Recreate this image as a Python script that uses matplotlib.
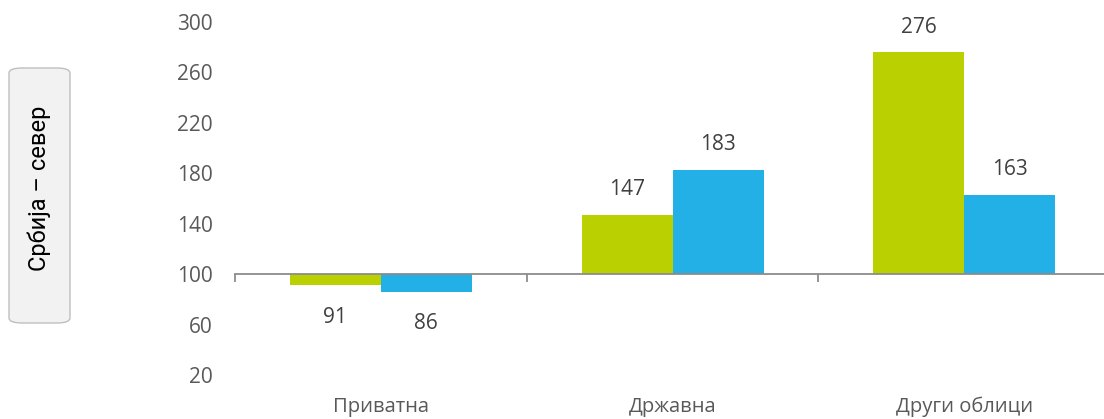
import matplotlib.pyplot as plt
from matplotlib.patches import FancyBboxPatch
import numpy as np

categories = ['Приватна', 'Државна', 'Други облици']
series_a = [91, 147, 276]
series_b = [86, 183, 163]
baseline = 100
yticks = [20, 60, 100, 140, 180, 220, 260, 300]
region = 'Србија – север'

green = '#bbd000'
blue = '#22b0e6'
text_col = '#404040'
tick_col = '#595959'

plt.rcParams['font.family'] = ['Open Sans', 'DejaVu Sans']

fig = plt.figure(figsize=(11.04, 4.19), dpi=100)
ax = fig.add_axes([235 / 1104, 44 / 419, 875 / 1104, 353 / 419])

x = np.arange(len(categories))
w = 0.312
bars_a = ax.bar(x - w / 2, np.array(series_a) - baseline, w, bottom=baseline, color=green)
bars_b = ax.bar(x + w / 2, np.array(series_b) - baseline, w, bottom=baseline, color=blue)

# value labels above/below bars
for bars, vals in ((bars_a, series_a), (bars_b, series_b)):
    for b, v in zip(bars, vals):
        cx = b.get_x() + b.get_width() / 2
        off = 18 if v >= baseline else -23
        ax.annotate(str(v), (cx, v), xytext=(0, off), textcoords='offset points',
                    ha='center', va='center', fontsize=15, color=text_col)

ax.set_xlim(-0.5, len(categories) - 0.5)
ax.set_ylim(20, 300)
ax.set_yticks(yticks)
ax.tick_params(axis='y', length=0, pad=16, labelsize=15, labelcolor=tick_col)

for s in ['top', 'right', 'left']:
    ax.spines[s].set_visible(False)
ax.spines['bottom'].set_position(('data', baseline))
ax.spines['bottom'].set_color('#8c8c8c')
ax.spines['bottom'].set_linewidth(1.3)
ax.set_xticks(np.arange(len(categories) + 1) - 0.5)
ax.set_xticklabels([])
ax.tick_params(axis='x', direction='out', length=6, width=1.3, color='#8c8c8c')

for i, c in enumerate(categories):
    ax.text(i, -0.091, c, transform=ax.get_xaxis_transform(), ha='center', va='center',
            fontsize=14.5, color=tick_col)

# rounded side box with region name
box = FancyBboxPatch((9 / 1104, 96 / 419), 61 / 1104, 255 / 419,
                     boxstyle='round,pad=0,rounding_size=0.012',
                     transform=fig.transFigure, facecolor='#f2f2f2',
                     edgecolor='#bfbfbf', linewidth=1)
fig.patches.append(box)
fig.text(39 / 1104, 231 / 419, region, rotation=90, ha='center', va='center',
         fontsize=17, color='black', family=['Liberation Sans Narrow', 'Roboto', 'DejaVu Sans'])

fig.savefig('out.png', dpi=100)
